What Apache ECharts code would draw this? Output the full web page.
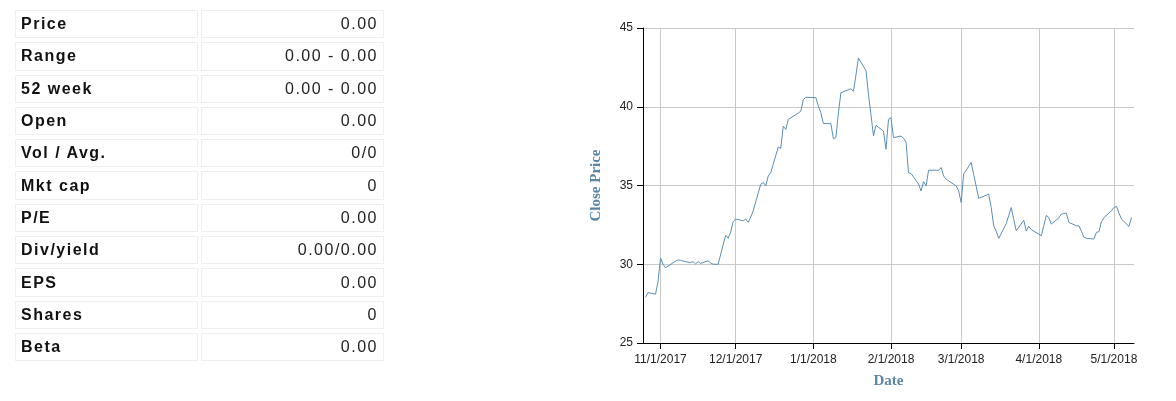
<!DOCTYPE html>
<html>
<head>
<meta charset="utf-8">
<script src="https://cdn.jsdelivr.net/npm/echarts@6/dist/echarts.min.js"></script>
<style>
    body { margin: 0; background: #fff; }
    #wrap { position: relative; width: 1176px; height: 401px; overflow: hidden; }
    .stats {
        position: absolute; left: 12px; top: 6px;
        border-collapse: separate; border-spacing: 3px 4px;
        font-family: "Liberation Sans", Arial, sans-serif; font-size: 16px; letter-spacing: 1.5px;
    }
    .stats td {
        box-sizing: border-box; height: 28.3px; width: 183px;
        border: 1px solid #efefef; padding: 0 5px 0 5px; color: #111;
    }
    .stats td.k { font-weight: bold; }
    .stats td.v { text-align: right; color: #222; }
    #chart { position: absolute; left: 0; top: 0; width: 1176px; height: 401px; }
</style>
</head>
<body>
<div id="wrap">
    <div id="chart"></div>
    <table class="stats" id="stats"></table>
</div>
<script>
// 表格 ===================
var statLabels = ['Price', 'Range', '52 week', 'Open', 'Vol / Avg.', 'Mkt cap', 'P/E', 'Div/yield', 'EPS', 'Shares', 'Beta']
var statValues = ['0.00', '0.00 - 0.00', '0.00 - 0.00', '0.00', '0/0', '0', '0.00', '0.00/0.00', '0.00', '0', '0.00']

// 收盘价 ===================
var dates = [
    '2017-10-26', '2017-10-27', '2017-10-30', '2017-10-31',
    '2017-11-01', '2017-11-02', '2017-11-03', '2017-11-06', '2017-11-07', '2017-11-08', '2017-11-09', '2017-11-10',
    '2017-11-13', '2017-11-14', '2017-11-15', '2017-11-16', '2017-11-17', '2017-11-20', '2017-11-21', '2017-11-22',
    '2017-11-24', '2017-11-27', '2017-11-28', '2017-11-29', '2017-11-30',
    '2017-12-01', '2017-12-04', '2017-12-05', '2017-12-06', '2017-12-07', '2017-12-08', '2017-12-11', '2017-12-12',
    '2017-12-13', '2017-12-14', '2017-12-15', '2017-12-18', '2017-12-19', '2017-12-20', '2017-12-21', '2017-12-22',
    '2017-12-26', '2017-12-27', '2017-12-28', '2017-12-29',
    '2018-01-02', '2018-01-03', '2018-01-04', '2018-01-05', '2018-01-08', '2018-01-09', '2018-01-10', '2018-01-11',
    '2018-01-12', '2018-01-16', '2018-01-17', '2018-01-18', '2018-01-19', '2018-01-22', '2018-01-23', '2018-01-24',
    '2018-01-25', '2018-01-26', '2018-01-29', '2018-01-30', '2018-01-31',
    '2018-02-01', '2018-02-02', '2018-02-05', '2018-02-06', '2018-02-07', '2018-02-08', '2018-02-09', '2018-02-12',
    '2018-02-13', '2018-02-14', '2018-02-15', '2018-02-16', '2018-02-20', '2018-02-21', '2018-02-22', '2018-02-23',
    '2018-02-26', '2018-02-27', '2018-02-28',
    '2018-03-01', '2018-03-02', '2018-03-05', '2018-03-06', '2018-03-07', '2018-03-08', '2018-03-09', '2018-03-12',
    '2018-03-13', '2018-03-14', '2018-03-15', '2018-03-16', '2018-03-19', '2018-03-20', '2018-03-21', '2018-03-22',
    '2018-03-23', '2018-03-26', '2018-03-27', '2018-03-28', '2018-03-29',
    '2018-04-02', '2018-04-03', '2018-04-04', '2018-04-05', '2018-04-06', '2018-04-09', '2018-04-10', '2018-04-11',
    '2018-04-12', '2018-04-13', '2018-04-16', '2018-04-17', '2018-04-18', '2018-04-19', '2018-04-20', '2018-04-23',
    '2018-04-24', '2018-04-25', '2018-04-26', '2018-04-27', '2018-04-30',
    '2018-05-01', '2018-05-02', '2018-05-03', '2018-05-04', '2018-05-07', '2018-05-08'
]
var closes = [
    27.9, 28.2, 28.1, 28.9,
    30.4, 30.0, 29.77, 30.1, 30.2, 30.27, 30.25, 30.2,
    30.1, 30.17, 30.02, 30.17, 30.05, 30.22, 30.08, 30.0,
    30.0, 31.85, 31.65, 32.05, 32.7,
    32.87, 32.76, 32.87, 32.66, 33.0, 33.4, 35.08, 35.19,
    34.98, 35.6, 35.82, 37.44, 37.36, 38.77, 38.56, 39.2,
    39.6, 39.72, 40.46, 40.6,
    40.58, 40.04, 39.62, 38.94, 38.92, 37.97, 38.04, 39.6,
    40.89, 41.14, 40.99, 42.0, 43.1, 42.3, 40.8, 39.5,
    38.15, 38.82, 38.45, 37.3, 39.2,
    39.3, 38.04, 38.14, 38.0, 37.75, 35.8, 35.76, 35.1,
    34.65, 35.25, 34.98, 35.97, 35.97, 36.14, 35.61, 35.4,
    35.08, 34.98, 34.66,
    33.92, 35.72, 36.46, 35.7, 34.95, 34.19, 34.25, 34.45,
    33.6, 32.44, 32.1, 31.64, 32.58, 33.1, 33.6, 32.85,
    32.12, 32.8, 32.1, 32.42, 32.2,
    31.81, 32.45, 33.1, 32.97, 32.55, 32.95, 33.18, 33.22,
    33.25, 32.66, 32.44, 32.44, 32.1, 31.72, 31.65, 31.6,
    32.03, 32.06, 32.7, 32.95, 33.4,
    33.6, 33.67, 33.25, 32.87, 32.4, 32.97
]
var dateMin = '2017-10-25'
var dateMax = '2018-05-09'
var priceTicks = [25, 30, 35, 40, 45]

;(function () {
    var table = document.getElementById('stats')
    var html = ''
    for (var i = 0; i < statLabels.length; i++) {
        html += '<tr><td class="k">' + statLabels[i] + '</td><td class="v">' + statValues[i] + '</td></tr>'
    }
    table.innerHTML = html
}());

(function () {
    var myChart = echarts.init(document.getElementById('chart'))

    var points = []
    for (var i = 0; i < dates.length; i++) {
        points.push([dates[i], closes[i]])
    }

    var tickFont = { color: '#222', fontSize: 12, fontFamily: '"Liberation Sans", Arial, sans-serif' }
    var nameFont = { color: '#5a87a8', fontSize: 15, fontWeight: 'bold', fontFamily: '"Liberation Serif", "Times New Roman", serif' }

    var option = {
        animation: false,
        grid: { left: 643, right: 42, top: 28, bottom: 58 },
        xAxis: {
            type: 'time',
            min: dateMin,
            max: dateMax,
            splitNumber: 7,
            name: 'Date',
            nameLocation: 'middle',
            nameGap: 31,
            nameTextStyle: nameFont,
            axisLine: { show: true, lineStyle: { color: '#000', width: 1 } },
            axisTick: { show: true, length: 6, lineStyle: { color: '#000' } },
            axisLabel: Object.assign({
                margin: 11,
                showMinLabel: false,
                showMaxLabel: false,
                formatter: function (value) {
                    var d = new Date(value)
                    return (d.getMonth() + 1) + '/' + d.getDate() + '/' + d.getFullYear()
                }
            }, tickFont),
            splitLine: { show: true, showMinLine: false, showMaxLine: false, lineStyle: { color: '#c8c8c8', width: 1 } }
        },
        yAxis: {
            type: 'value',
            min: priceTicks[0],
            max: priceTicks[priceTicks.length - 1],
            interval: 5,
            name: 'Close Price',
            nameLocation: 'middle',
            nameRotate: 90,
            nameGap: 39,
            nameTextStyle: nameFont,
            axisLine: { show: true, lineStyle: { color: '#000', width: 1 } },
            axisTick: { show: true, length: 6, lineStyle: { color: '#000' } },
            axisLabel: Object.assign({ margin: 10 }, tickFont),
            splitLine: { show: true, lineStyle: { color: '#c8c8c8', width: 1 } }
        },
        series: [
            {
                name: 'Close',
                type: 'line',
                showSymbol: false,
                symbol: 'none',
                data: points,
                lineStyle: { color: '#5b8db8', width: 1 }
            }
        ]
    }

    myChart.setOption(option)
    window.addEventListener('resize', function () {
        myChart.resize()
    })
}());
</script>
</body>
</html>
